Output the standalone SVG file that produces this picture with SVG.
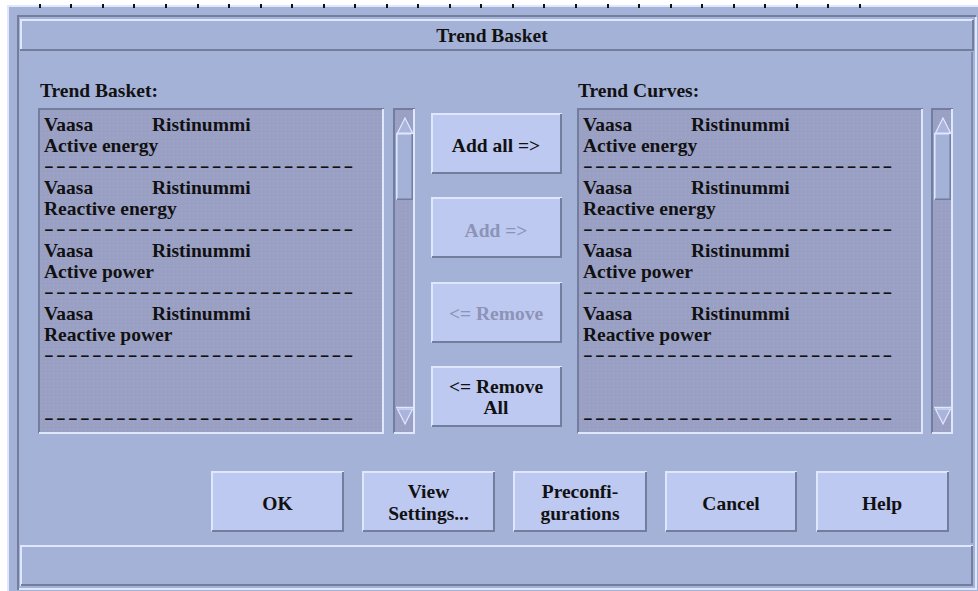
<svg xmlns="http://www.w3.org/2000/svg" width="978" height="591" viewBox="0 0 978 591">
  <defs>
    <pattern id="stipple" width="4" height="4" patternUnits="userSpaceOnUse">
      <rect width="4" height="4" fill="#9aa0c4"/>
      <rect x="1" y="1" width="1" height="1" fill="#a3a9cc"/>
    </pattern>
    <style>
      .bg { fill: #a5b2d8; }
      .face { fill: #bdc9f1; }
      .well { fill: url(#stipple); }
      .hl { stroke: #dfe7ff; stroke-width: 2; fill: none; }
      .sh { stroke: #737d9e; stroke-width: 2; fill: none; }
      .hl1 { stroke: #dfe7ff; stroke-width: 1.5; fill: none; }
      .sh1 { stroke: #737d9e; stroke-width: 1.5; fill: none; }
      .t { font-family: "Liberation Serif", "Times New Roman", serif; font-weight: bold; font-size: 19.5px; fill: #111; }
      .c { text-anchor: middle; }
      .dis { fill: #8d93b7; }
      .dash { letter-spacing: 1.5px; }
      .arrow { fill: #aab4dc; stroke: #dfe7ff; stroke-width: 1.2; }
      .tick { fill: #111; }
    </style>
  </defs>

  <!-- window background and ruler ticks above the dialog -->
  <rect x="0" y="0" width="978" height="591" fill="#ffffff"/>
  <rect class="bg" x="7" y="5" width="971" height="586"/>
  <path class="hl" d="M8 591 V6 H978"/>
  <g id="ticks">
    <rect class="tick" x="39" y="4" width="2" height="4"/><rect class="tick" x="70" y="4" width="2" height="4"/>
    <rect class="tick" x="102" y="4" width="2" height="4"/><rect class="tick" x="133" y="4" width="2" height="4"/>
    <rect class="tick" x="165" y="4" width="2" height="4"/><rect class="tick" x="197" y="4" width="2" height="4"/>
    <rect class="tick" x="228" y="4" width="2" height="4"/><rect class="tick" x="260" y="4" width="2" height="4"/>
    <rect class="tick" x="291" y="4" width="2" height="4"/><rect class="tick" x="323" y="4" width="2" height="4"/>
    <rect class="tick" x="354" y="4" width="2" height="4"/><rect class="tick" x="386" y="4" width="2" height="4"/>
    <rect class="tick" x="417" y="4" width="2" height="4"/><rect class="tick" x="449" y="4" width="2" height="4"/>
    <rect class="tick" x="480" y="4" width="2" height="4"/><rect class="tick" x="512" y="4" width="2" height="4"/>
    <rect class="tick" x="543" y="4" width="2" height="4"/><rect class="tick" x="575" y="4" width="2" height="4"/>
    <rect class="tick" x="607" y="4" width="2" height="4"/><rect class="tick" x="638" y="4" width="2" height="4"/>
    <rect class="tick" x="670" y="4" width="2" height="4"/><rect class="tick" x="701" y="4" width="2" height="4"/>
    <rect class="tick" x="733" y="4" width="2" height="4"/><rect class="tick" x="764" y="4" width="2" height="4"/>
    <rect class="tick" x="796" y="4" width="2" height="4"/><rect class="tick" x="827" y="4" width="2" height="4"/>
    <rect class="tick" x="859" y="4" width="2" height="4"/>
  </g>

  <!-- etched outer frame -->
  <path class="sh" d="M18 590 V16 H976"/>
  <path class="hl" d="M19 589 H976 V17"/>

  <!-- title bar -->
  <g id="title">
    <path class="hl" d="M21 50 V20 H973"/>
    <path class="sh" d="M20 50 H973 V20"/>
    <text class="t c" x="492" y="42">Trend Basket</text>
  </g>
  <path class="sh1" d="M972 52 V543"/>

  <!-- column labels -->
  <g id="label-basket"><text class="t" x="40" y="97">Trend Basket:</text></g>
  <g id="label-curves"><text class="t" x="578" y="97">Trend Curves:</text></g>

  <!-- left list -->
  <g id="list-basket">
    <rect class="well" x="38" y="108" width="346" height="326"/>
    <path class="sh" d="M39 433 V109 H384"/>
    <path class="hl" d="M39 433 H383 V109"/>
    <text class="t" x="44" y="131">Vaasa</text><text class="t" x="152" y="131">Ristinummi</text>
    <text class="t" x="44" y="152">Active energy</text>
    <text class="t" x="44" y="194">Vaasa</text><text class="t" x="152" y="194">Ristinummi</text>
    <text class="t" x="44" y="215">Reactive energy</text>
    <text class="t" x="44" y="257">Vaasa</text><text class="t" x="152" y="257">Ristinummi</text>
    <text class="t" x="44" y="278">Active power</text>
    <text class="t" x="44" y="320">Vaasa</text><text class="t" x="152" y="320">Ristinummi</text>
    <text class="t" x="44" y="341">Reactive power</text>
    <!-- separator rows, stretched horizontally -->
    <g transform="scale(1.5 1)">
      <text class="t dash" x="29.33" y="172">--------------------------</text>
      <text class="t dash" x="29.33" y="235">--------------------------</text>
      <text class="t dash" x="29.33" y="298">--------------------------</text>
      <text class="t dash" x="29.33" y="361">--------------------------</text>
      <text class="t dash" x="29.33" y="424">--------------------------</text>
    </g>
  </g>

  <!-- left scroll bar -->
  <g id="scroll-basket">
    <rect class="well" x="393" y="108" width="22" height="326"/>
    <path class="sh" d="M394 433 V109 H415"/>
    <path class="hl" d="M394 433 H414 V109"/>
    <polygon class="arrow" points="405,118 397.5,133 412.5,133"/>
    <rect class="bg" x="396" y="133" width="17" height="67"/>
    <path class="hl1" d="M396.8 200 V133.8 H413"/>
    <path class="sh1" d="M396.8 199.2 H412.2 V134"/>
    <path class="hl1" d="M396 407.5 H413"/>
    <polygon class="arrow" points="397.5,409 412.5,409 405,424"/>
  </g>

  <!-- right list -->
  <g id="list-curves">
    <rect class="well" x="577" y="108" width="346" height="326"/>
    <path class="sh" d="M578 433 V109 H923"/>
    <path class="hl" d="M578 433 H922 V109"/>
    <text class="t" x="583" y="131">Vaasa</text><text class="t" x="691" y="131">Ristinummi</text>
    <text class="t" x="583" y="152">Active energy</text>
    <text class="t" x="583" y="194">Vaasa</text><text class="t" x="691" y="194">Ristinummi</text>
    <text class="t" x="583" y="215">Reactive energy</text>
    <text class="t" x="583" y="257">Vaasa</text><text class="t" x="691" y="257">Ristinummi</text>
    <text class="t" x="583" y="278">Active power</text>
    <text class="t" x="583" y="320">Vaasa</text><text class="t" x="691" y="320">Ristinummi</text>
    <text class="t" x="583" y="341">Reactive power</text>
    <!-- separator rows, stretched horizontally -->
    <g transform="scale(1.5 1)">
      <text class="t dash" x="388.67" y="172">--------------------------</text>
      <text class="t dash" x="388.67" y="235">--------------------------</text>
      <text class="t dash" x="388.67" y="298">--------------------------</text>
      <text class="t dash" x="388.67" y="361">--------------------------</text>
      <text class="t dash" x="388.67" y="424">--------------------------</text>
    </g>
  </g>

  <!-- right scroll bar -->
  <g id="scroll-curves">
    <rect class="well" x="931" y="108" width="22" height="326"/>
    <path class="sh" d="M932 433 V109 H953"/>
    <path class="hl" d="M932 433 H952 V109"/>
    <polygon class="arrow" points="943,118 935.5,133 950.5,133"/>
    <rect class="bg" x="934" y="133" width="17" height="67"/>
    <path class="hl1" d="M934.8 200 V133.8 H951"/>
    <path class="sh1" d="M934.8 199.2 H950.2 V134"/>
    <path class="hl1" d="M934 407.5 H951"/>
    <polygon class="arrow" points="935.5,409 950.5,409 943,424"/>
  </g>

  <!-- transfer buttons -->
  <g id="btn-add-all">
    <rect class="face" x="431" y="113" width="131" height="61"/>
    <path class="hl" d="M432 173 V114 H562"/>
    <path class="sh" d="M432 173 H561 V114"/>
    <text class="t c" x="496" y="152">Add all =&gt;</text>
  </g>
  <g id="btn-add">
    <rect class="face" x="431" y="197" width="131" height="61"/>
    <path class="hl" d="M432 257 V198 H562"/>
    <path class="sh" d="M432 257 H561 V198"/>
    <text class="t c dis" x="496" y="237">Add =&gt;</text>
  </g>
  <g id="btn-remove">
    <rect class="face" x="431" y="282" width="131" height="61"/>
    <path class="hl" d="M432 342 V283 H562"/>
    <path class="sh" d="M432 342 H561 V283"/>
    <text class="t c dis" x="496" y="320">&lt;= Remove</text>
  </g>
  <g id="btn-remove-all">
    <rect class="face" x="431" y="366" width="131" height="61"/>
    <path class="hl" d="M432 426 V367 H562"/>
    <path class="sh" d="M432 426 H561 V367"/>
    <text class="t c" x="496" y="393">&lt;= Remove</text>
    <text class="t c" x="496" y="414">All</text>
  </g>

  <!-- dialog buttons -->
  <g id="btn-ok">
    <rect class="face" x="211" y="471" width="133" height="61"/>
    <path class="hl" d="M212 531 V472 H344"/>
    <path class="sh" d="M212 531 H343 V472"/>
    <text class="t c" x="277.5" y="510">OK</text>
  </g>
  <g id="btn-view-settings">
    <rect class="face" x="362" y="471" width="133" height="61"/>
    <path class="hl" d="M363 531 V472 H495"/>
    <path class="sh" d="M363 531 H494 V472"/>
    <text class="t c" x="428.5" y="498">View</text>
    <text class="t c" x="428.5" y="520">Settings...</text>
  </g>
  <g id="btn-preconfigurations">
    <rect class="face" x="513" y="471" width="134" height="61"/>
    <path class="hl" d="M514 531 V472 H647"/>
    <path class="sh" d="M514 531 H646 V472"/>
    <text class="t c" x="580" y="498">Preconfi-</text>
    <text class="t c" x="580" y="520">gurations</text>
  </g>
  <g id="btn-cancel">
    <rect class="face" x="665" y="471" width="132" height="61"/>
    <path class="hl" d="M666 531 V472 H797"/>
    <path class="sh" d="M666 531 H796 V472"/>
    <text class="t c" x="731" y="510">Cancel</text>
  </g>
  <g id="btn-help">
    <rect class="face" x="816" y="471" width="133" height="61"/>
    <path class="hl" d="M817 531 V472 H949"/>
    <path class="sh" d="M817 531 H948 V472"/>
    <text class="t c" x="882" y="510">Help</text>
  </g>

  <!-- status line -->
  <g id="status">
    <path class="hl" d="M21 586 V546 H973"/>
    <path class="sh" d="M21 585 H972 V546"/>
  </g>
</svg>
